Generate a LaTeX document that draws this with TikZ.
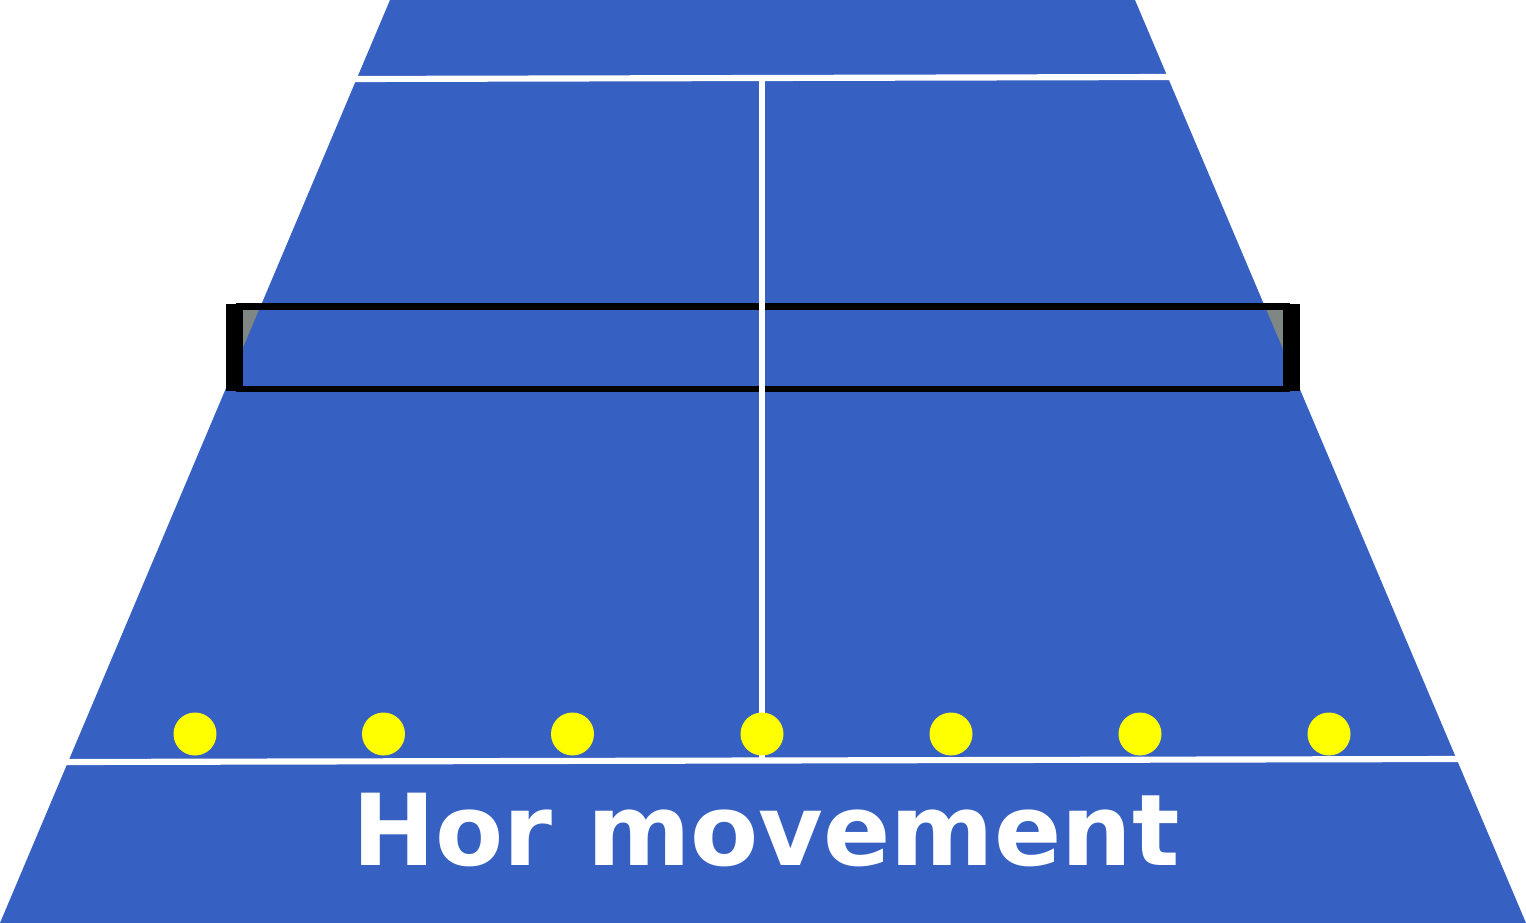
\documentclass[tikz,border=0pt]{standalone}
\usepackage{fontspec}
\newfontfamily\dejabold{DejaVu Sans Bold}
\definecolor{court}{RGB}{54,96,194}
\definecolor{netgray}{RGB}{127,134,131}
\definecolor{ballyellow}{RGB}{255,255,0}
\begin{document}
\begin{tikzpicture}[x=0.02cm,y=-0.02cm,
  courtline/.style={draw=white,line width=3.5pt},
  netbar/.style={fill=black},
  ball/.style={circle,fill=ballyellow,inner sep=0pt,minimum size=0.86cm},
  label/.style={text=white,font=\dejabold\fontsize{56.5}{57}\selectfont,anchor=base}]
\useasboundingbox (0,0) rectangle (1526,923);
% net interior (visible outside court)
\fill[netgray] (243,309) rectangle (1284,386);
% court
\fill[court] (390,0) -- (1135,0) -- (1526,923) -- (0,923) -- cycle;
% net outline and posts
\fill[netbar] (236,303) rectangle (1290,310);
\fill[netbar] (236,385.5) rectangle (1290,391.5);
\fill[netbar] (226,304) rectangle (243,391);
\fill[netbar] (1283,304) rectangle (1300,391);
% court lines
\draw[courtline] (354,79) -- (1169,77);
\draw[courtline] (762,79) -- (762,760);
\draw[courtline] (66,762) -- (1460,759);
% balls
\foreach \i/\x in {1/195,2/383.5,3/572.5,4/762,5/951,6/1140,7/1329}
  \node[ball] (b\i) at (\x,734) {};
\node[label] (title) at (766,865) {Hor movement};
\end{tikzpicture}
\end{document}
